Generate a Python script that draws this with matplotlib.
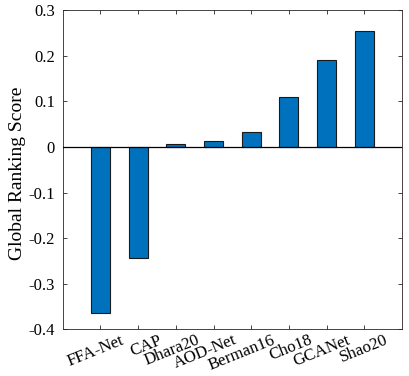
import matplotlib
matplotlib.use("Agg")
import matplotlib.pyplot as plt
from matplotlib.transforms import ScaledTranslation
import numpy as np

methods = ["FFA-Net", "CAP", "Dhara20", "AOD-Net", "Berman16", "Cho18", "GCANet", "Shao20"]
scores = [-0.364, -0.243, 0.006, 0.014, 0.032, 0.110, 0.190, 0.254]
yticks = [-0.4, -0.3, -0.2, -0.1, 0, 0.1, 0.2, 0.3]
ytick_labels = ["-0.4", "-0.3", "-0.2", "-0.1", "0", "0.1", "0.2", "0.3"]

plt.rcParams["font.family"] = ["Liberation Serif", "DejaVu Serif"]

fig = plt.figure(figsize=(4.1, 3.76), dpi=100)
ax = fig.add_axes([0.153, 0.124, 0.9805 - 0.153, 0.9726 - 0.124])

x = np.arange(1, len(methods) + 1)
ax.bar(x, scores, width=0.5, color="#0072BD", edgecolor="#1a1a1a", linewidth=0.8, zorder=2)
ax.axhline(0, color="black", linewidth=0.9, zorder=3)

ax.set_xlim(0, 9)
ax.set_ylim(-0.4, 0.3)
ax.set_yticks(yticks)
ax.set_yticklabels(ytick_labels, fontsize=12)
ax.set_xticks(x)
ax.set_xticklabels(methods, fontsize=12.2, rotation=22, ha="right", va="top",
                   rotation_mode="anchor")
ax.set_ylabel("Global Ranking Score", fontsize=14)
ax.yaxis.set_label_coords(-0.108, 0.49)

ax.tick_params(direction="in", length=3, width=0.6, color="#262626",
               top=True, right=True)
ax.tick_params(axis="y", pad=5.5)
ax.tick_params(axis="x", pad=2)
# MATLAB-style label placement: right end sits right of the tick
shift = ScaledTranslation(20 / 100, 0, fig.dpi_scale_trans)
for lbl in ax.get_xticklabels():
    lbl.set_transform(lbl.get_transform() + shift)

for s in ax.spines.values():
    s.set_linewidth(0.6)
    s.set_color("#262626")

fig.savefig("out.png", dpi=100)
